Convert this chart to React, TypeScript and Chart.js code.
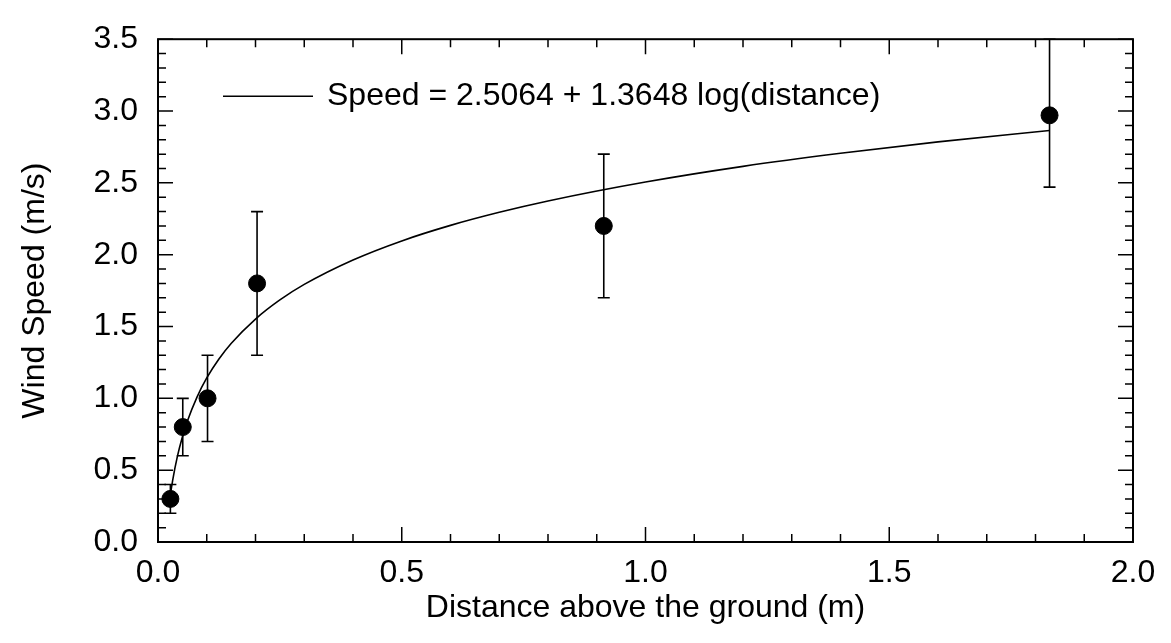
import React, { useEffect, useRef } from "react";
import { Chart, registerables } from "chart.js";

Chart.register(...registerables);

// Measured points (distance in m, wind speed in m/s)
const distances = [0.0254, 0.0508, 0.1016, 0.2032, 0.9144, 1.8288];
const speeds = [0.3, 0.8, 1.0, 1.8, 2.2, 2.97];
const errLow = [0.2, 0.6, 0.7, 1.3, 1.7, 2.47];
const errHigh = [0.4, 1.0, 1.3, 2.3, 2.7, 3.5];

// Fitted curve
const fitX = [0.0254, 0.03, 0.04, 0.05, 0.06, 0.08, 0.1, 0.125, 0.15, 0.2, 0.25, 0.3, 0.4, 0.5, 0.6, 0.7, 0.8, 1.0, 1.2, 1.4, 1.6, 1.8288];
const fitY = [0.329, 0.428, 0.599, 0.731, 0.839, 1.009, 1.142, 1.274, 1.382, 1.552, 1.685, 1.793, 1.963, 2.096, 2.204, 2.295, 2.374, 2.506, 2.615, 2.706, 2.785, 2.864];

const xTickValues = [0, 0.5, 1.0, 1.5, 2.0];
const yTickValues = [0, 0.5, 1.0, 1.5, 2.0, 2.5, 3.0, 3.5];

const legendText = "Speed = 2.5064 + 1.3648 log(distance)";
const xTitle = "Distance above the ground (m)";
const yTitle = "Wind Speed (m/s)";

const FONT = "'Liberation Sans', Arial, Helvetica, sans-serif";
const FS = 32;

const decorPlugin = {
  id: "decor",
  beforeDatasetsDraw(chart: any) {
    const ctx = chart.ctx;
    const xs = chart.scales.x;
    const ys = chart.scales.y;
    ctx.save();
    // error bars
    ctx.strokeStyle = "#000";
    ctx.lineWidth = 1.6;
    for (let i = 0; i < distances.length; i++) {
      const px = xs.getPixelForValue(distances[i]);
      const lo = ys.getPixelForValue(errLow[i]);
      const hi = ys.getPixelForValue(errHigh[i]);
      ctx.beginPath();
      ctx.moveTo(px, lo);
      ctx.lineTo(px, hi);
      ctx.moveTo(px - 6, lo);
      ctx.lineTo(px + 6, lo);
      ctx.moveTo(px - 6, hi);
      ctx.lineTo(px + 6, hi);
      ctx.stroke();
    }
    ctx.restore();
  },
  afterDraw(chart: any) {
    const ctx = chart.ctx;
    const xs = chart.scales.x;
    const ys = chart.scales.y;
    const a = chart.chartArea;
    ctx.save();
    ctx.strokeStyle = "#000";
    // frame
    ctx.lineWidth = 2;
    ctx.strokeRect(a.left, a.top, a.right - a.left, a.bottom - a.top);
    // ticks
    ctx.lineWidth = 1.5;
    ctx.beginPath();
    for (let k = 0; k <= 20; k++) {
      const v = k / 10;
      const px = xs.getPixelForValue(v);
      const len = k % 5 === 0 ? 15 : 8;
      ctx.moveTo(px, a.bottom);
      ctx.lineTo(px, a.bottom - len);
      ctx.moveTo(px, a.top);
      ctx.lineTo(px, a.top + len);
    }
    for (let k = 0; k <= 35; k++) {
      const v = k / 10;
      const py = ys.getPixelForValue(v);
      const len = k % 5 === 0 ? 15 : 8;
      ctx.moveTo(a.left, py);
      ctx.lineTo(a.left + len, py);
      ctx.moveTo(a.right, py);
      ctx.lineTo(a.right - len, py);
    }
    ctx.stroke();
    // legend
    const ly = a.top + 57;
    const lx = a.left + 65;
    ctx.lineWidth = 1.5;
    ctx.beginPath();
    ctx.moveTo(lx, ly);
    ctx.lineTo(lx + 90, ly);
    ctx.stroke();
    ctx.fillStyle = "#000";
    ctx.font = `${FS}px ${FONT}`;
    ctx.textBaseline = "middle";
    ctx.textAlign = "left";
    ctx.fillText(legendText, lx + 104, ly);
    ctx.restore();
  },
};

export default function App() {
  const ref = useRef<HTMLCanvasElement | null>(null);
  useEffect(() => {
    document.body.style.margin = "0";
    const canvas = ref.current;
    if (!canvas) return;
    const chart = new Chart(canvas, {
      type: "scatter",
      data: {
        datasets: [
          {
            label: "fit",
            type: "line",
            data: fitX.map((x, i) => ({ x, y: fitY[i] })),
            borderColor: "#000",
            borderWidth: 1.6,
            pointRadius: 0,
            cubicInterpolationMode: "monotone",
            fill: false,
            order: 2,
          } as any,
          {
            label: "data",
            data: distances.map((x, i) => ({ x, y: speeds[i] })),
            backgroundColor: "#000",
            borderColor: "#000",
            pointRadius: 8.5,
            pointHoverRadius: 8.5,
            order: 1,
          },
        ],
      },
      options: {
        responsive: false,
        animation: false,
        events: [],
        layout: { padding: { top: 28, right: 38, left: 0, bottom: 0 } },
        plugins: { legend: { display: false }, tooltip: { enabled: false } },
        scales: {
          x: {
            type: "linear",
            min: 0,
            max: 2,
            afterBuildTicks: (s: any) => {
              s.ticks = xTickValues.map((v) => ({ value: v }));
            },
            afterFit: (s: any) => {
              s.height = 101;
            },
            grid: { display: false, drawTicks: false },
            border: { display: false },
            ticks: {
              color: "#000",
              padding: 12,
              maxRotation: 0,
              font: { size: FS, family: FONT },
              callback: (v: any) => Number(v).toFixed(1),
            },
            title: {
              display: true,
              text: xTitle,
              color: "#000",
              font: { size: FS, family: FONT },
              padding: { top: 0, bottom: 16 },
            },
          },
          y: {
            type: "linear",
            min: 0,
            max: 3.5,
            afterBuildTicks: (s: any) => {
              s.ticks = yTickValues.map((v) => ({ value: v }));
            },
            afterFit: (s: any) => {
              s.width = 158;
            },
            grid: { display: false, drawTicks: false },
            border: { display: false },
            ticks: {
              color: "#000",
              padding: 20,
              font: { size: FS, family: FONT },
              callback: (v: any) => Number(v).toFixed(1),
            },
            title: {
              display: true,
              text: yTitle,
              color: "#000",
              font: { size: FS, family: FONT },
              padding: { top: 16, bottom: 0 },
            },
          },
        },
      },
      plugins: [decorPlugin],
    });
    return () => chart.destroy();
  }, []);
  return (
    <div style={{ position: "fixed", left: 0, top: 0, width: 1171, height: 643, background: "#fff" }}>
      <canvas ref={ref} width={1171} height={643} style={{ display: "block" }} />
    </div>
  );
}
